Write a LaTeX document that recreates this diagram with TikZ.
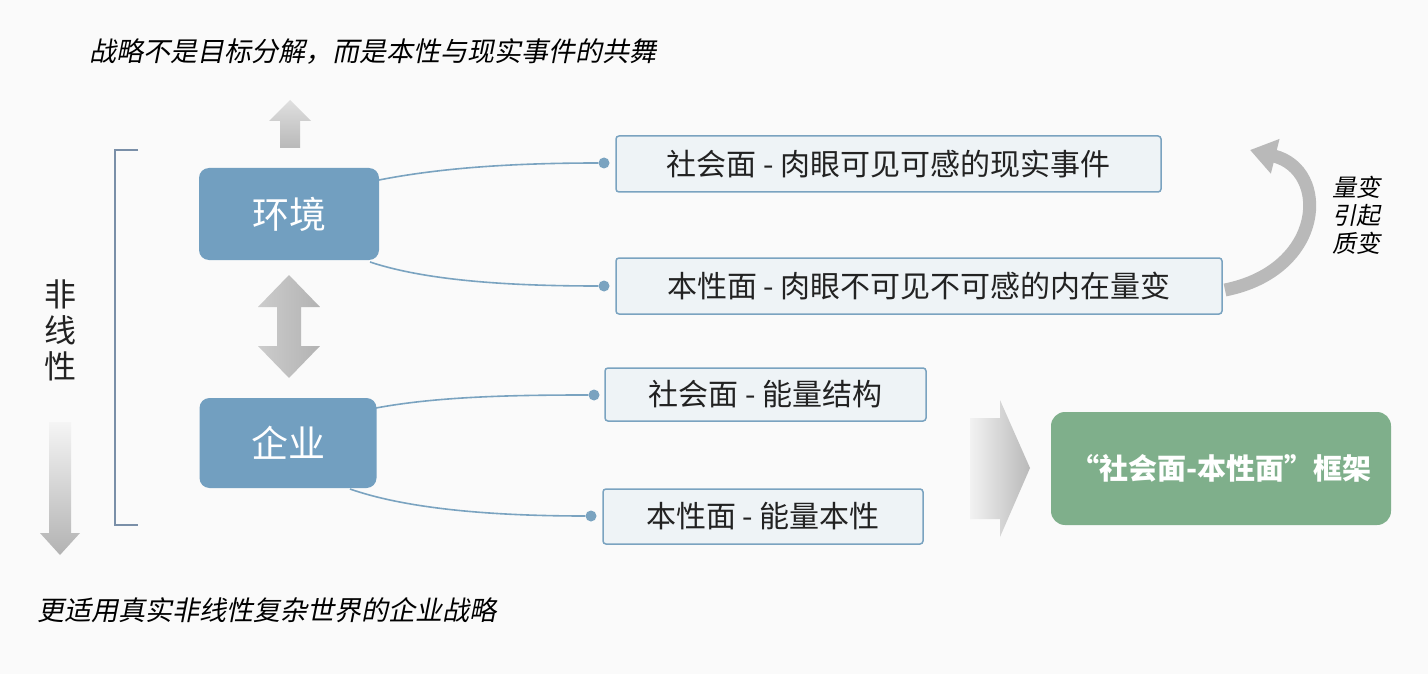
\documentclass[tikz,border=0pt]{standalone}
\usepackage{fontspec}
\setmainfont{Noto Sans CJK SC}
\newfontfamily\cjkit[FakeSlant=0.2]{Noto Sans CJK SC}
\usetikzlibrary{arrows.meta}
\definecolor{bg}{HTML}{FAFAFA}
\definecolor{blueb}{HTML}{729FC0}
\definecolor{lineb}{HTML}{7AA3C0}
\definecolor{boxf}{HTML}{EEF3F6}
\definecolor{greenb}{HTML}{7FAF8B}
\definecolor{txt}{HTML}{222222}
\definecolor{brk}{HTML}{7A8FA8}
\begin{document}
\begin{tikzpicture}[x=1pt,y=-1pt,
  bluebox/.style={draw=none,fill=blueb,rounded corners=10pt,text=white,font=\fontsize{37}{40}\selectfont},
  txtbox/.style={draw=lineb,line width=1.5pt,fill=boxf,rounded corners=3pt,font=\fontsize{30}{34}\selectfont,text=txt},
  conn/.style={lineb,line width=1.6pt},
  dotn/.style={circle,fill=lineb,inner sep=0pt,minimum size=11pt},
  itx/.style={font=\cjkit\fontsize{27}{30}\selectfont,text=black,anchor=west}]
\fill[bg] (0,0) rectangle (1428,674);
\useasboundingbox (0,0) rectangle (1428,674);
\node[itx] (top) at (86,52) {战略不是目标分解，而是本性与现实事件的共舞};
\node[itx] (bot) at (34,610) {更适用真实非线性复杂世界的企业战略};
% up arrow
\shade[top color=gray!25,bottom color=gray!55] (290,100) -- (311,121) -- (300,121) -- (300,148) -- (280,148) -- (280,121) -- (269,121) -- cycle;
% bracket
\draw[brk,line width=2pt] (138,150) -- (115,150) -- (115,525) -- (138,525);
\node[font=\fontsize{32}{36}\selectfont,text=txt,align=center] (nl) at (60,330) {非\\[0pt]线\\[0pt]性};
% gradient down arrow
\shade[top color=gray!8,bottom color=gray!60] (49,422) -- (71,422) -- (71,533) -- (80,533) -- (60,555) -- (40,533) -- (49,533) -- cycle;
% boxes
\node[bluebox,minimum width=180pt,minimum height=92pt] (env) at (289,214) {环境};
\node[bluebox,minimum width=177pt,minimum height=90pt] (ent) at (288,443) {企业};
% double arrow
\shade[left color=gray!40,right color=gray!60] (289,275) -- (320,307) -- (301,307) -- (301,346) -- (320,346) -- (289,378) -- (258,346) -- (277,346) -- (277,307) -- (258,307) -- cycle;
% right boxes
\node[txtbox,minimum width=545pt,minimum height=56pt] (b1) at (888.5,164) {社会面 - 肉眼可见可感的现实事件};
\node[txtbox,minimum width=606pt,minimum height=56pt] (b2) at (919,286) {本性面 - 肉眼不可见不可感的内在量变};
\node[txtbox,minimum width=321pt,minimum height=53pt] (b3) at (765.5,394.5) {社会面 - 能量结构};
\node[txtbox,minimum width=320pt,minimum height=55pt] (b4) at (763,516.5) {本性面 - 能量本性};
\node[dotn] (d1) at (604,163) {};
\node[dotn] (d2) at (604,286) {};
\node[dotn] (d3) at (594,395) {};
\node[dotn] (d4) at (591,516) {};
\coordinate (e1) at (379,180);
\coordinate (e2) at (370,262);
\coordinate (e3) at (376,408);
\coordinate (e4) at (350,489);
\draw[conn] (e1) .. controls (450,166) and (530,163) .. (d1);
\draw[conn] (e2) .. controls (430,282) and (520,286) .. (d2);
\draw[conn] (e3) .. controls (440,396) and (520,395) .. (d3);
\draw[conn] (e4) .. controls (410,510) and (500,516) .. (d4);
% curved arrow
\coordinate (ca1) at (1225,290);
\coordinate (ca2) at (1250,150);
\draw[gray!55,line width=13pt,-{Triangle[width=34pt,length=26pt]}] (ca1) .. controls (1325,270) and (1330,170) .. (ca2);
\node[font=\cjkit\fontsize{24}{28}\selectfont,align=center] (qb) at (1356,215) {量变\\引起\\质变};
% big right arrow
\shade[left color=gray!10,right color=gray!55] (970,418) -- (1000,418) -- (1000,400) -- (1030,468) -- (1000,537) -- (1000,519) -- (970,519) -- cycle;
\node[fill=greenb,rounded corners=14pt,minimum width=340pt,minimum height=113pt,text=white,font=\bfseries\fontsize{29}{32}\selectfont] (gr) at (1221,468.5) {“社会面-本性面”框架};
\end{tikzpicture}
\end{document}
